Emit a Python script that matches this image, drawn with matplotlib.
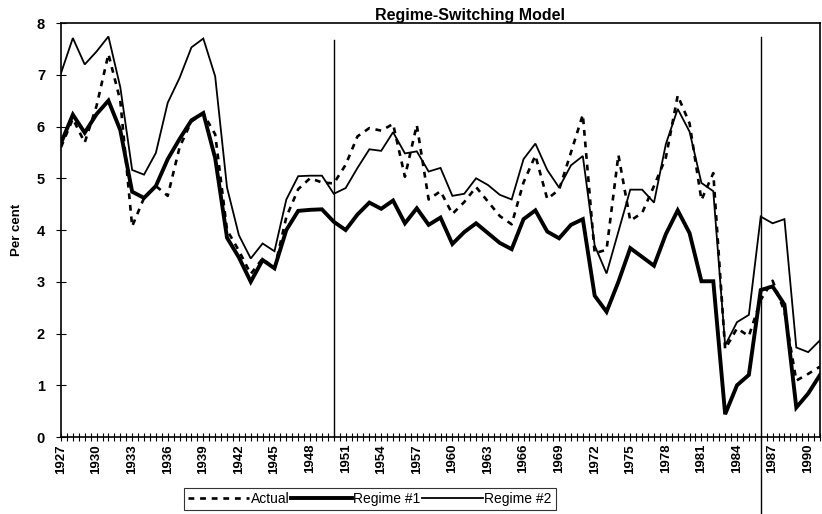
import numpy as np
import matplotlib
matplotlib.use("Agg")
import matplotlib.pyplot as plt
from matplotlib.ticker import MultipleLocator, FixedLocator

plt.rcParams['font.family'] = ['Liberation Sans', 'DejaVu Sans']

years = np.arange(1927, 1992)

actual = [5.60, 6.15, 5.69, 6.40, 7.40, 6.50, 4.07, 4.62, 4.85, 4.66,
          5.60, 6.10, 6.25, 5.85, 4.00, 3.60, 3.15, 3.45, 3.25, 4.25,
          4.79, 5.00, 4.92, 4.90, 5.26, 5.81, 5.97, 5.92, 6.05, 5.03,
          6.03, 4.59, 4.75, 4.31, 4.54, 4.83, 4.55, 4.27, 4.11, 4.92,
          5.44, 4.60, 4.78, 5.50, 6.23, 3.55, 3.62, 5.45, 4.18, 4.33,
          4.85, 5.40, 6.60, 6.06, 4.58, 5.10, 1.70, 2.10, 1.95, 2.65,
          3.02, 2.43, 1.09, 1.22, 1.36]

regime1 = [5.68, 6.23, 5.88, 6.24, 6.50, 5.93, 4.74, 4.62, 4.85, 5.37,
           5.76, 6.12, 6.26, 5.39, 3.85, 3.47, 3.00, 3.42, 3.26, 4.00,
           4.37, 4.39, 4.40, 4.16, 4.00, 4.30, 4.53, 4.41, 4.57, 4.13,
           4.42, 4.10, 4.24, 3.73, 3.96, 4.13, 3.94, 3.75, 3.63, 4.21,
           4.38, 3.97, 3.84, 4.10, 4.21, 2.73, 2.42, 3.00, 3.65, 3.48,
           3.31, 3.92, 4.38, 3.94, 3.01, 3.01, 0.44, 1.00, 1.20, 2.84,
           2.91, 2.56, 0.57, 0.84, 1.20]

regime2 = [7.03, 7.71, 7.20, 7.45, 7.74, 6.76, 5.16, 5.07, 5.49, 6.46,
           6.94, 7.53, 7.70, 6.97, 4.82, 3.90, 3.45, 3.74, 3.59, 4.59,
           5.04, 5.05, 5.05, 4.70, 4.81, 5.20, 5.56, 5.53, 5.89, 5.48,
           5.52, 5.13, 5.20, 4.66, 4.70, 5.00, 4.87, 4.68, 4.59, 5.37,
           5.67, 5.16, 4.82, 5.25, 5.43, 3.70, 3.16, 3.97, 4.78, 4.78,
           4.53, 5.66, 6.34, 5.90, 4.91, 4.75, 1.77, 2.22, 2.36, 4.26,
           4.13, 4.21, 1.73, 1.64, 1.87]

label_years = list(range(1927, 1991, 3))

# regime break markers (year, top of line, bottom of line)
breaks = [(1950, 7.67, 0.0), (1986, 7.73, -1.8)]

fig = plt.figure(figsize=(8.22, 5.14), dpi=100)
ax = fig.add_axes([0.0742, 0.1498, 0.9234, 0.8054])

ax.plot(years, actual, color='black', lw=1.9, linestyle=(0, (2.2, 2.2)),
        label='Actual')
ax.plot(years, regime1, color='black', lw=2.8, solid_joinstyle='miter',
        label='Regime #1')
ax.plot(years, regime2, color='black', lw=1.3, solid_joinstyle='miter',
        label='Regime #2')

for yr, top, bottom in breaks:
    ax.plot([yr, yr], [bottom, top], color='black', lw=1.0, clip_on=False)

ax.set_xlim(1927, 1991)
ax.set_ylim(0, 8)
ax.xaxis.set_major_locator(FixedLocator(label_years))
ax.xaxis.set_minor_locator(MultipleLocator(0.5))
ax.yaxis.set_major_locator(MultipleLocator(1))
ax.set_xticklabels([str(y) for y in label_years], rotation=90,
                   fontsize=9.5, fontweight='bold')
for lab in ax.get_yticklabels():
    lab.set_fontsize(10.5)
    lab.set_fontweight('bold')

ax.tick_params(axis='x', which='both', direction='inout', length=6,
               width=0.8, pad=2)
ax.tick_params(axis='y', which='major', direction='inout', length=7,
               width=0.8, pad=8, labelsize=10.5)
for side in ['left', 'bottom', 'top', 'right']:
    ax.spines[side].set_linewidth(1.2)

ax.set_ylabel('Per cent', fontsize=9.5, fontweight='bold', labelpad=10)

fig.text(0.572, 0.97, 'Regime-Switching Model', ha='center', va='center',
         fontsize=11.5, fontweight='bold')

leg = fig.legend(loc='center', bbox_to_anchor=(370 / 822, 1 - 499 / 514),
                 ncol=3, frameon=True, fancybox=False, edgecolor='black',
                 fontsize=10, handlelength=4.4, handletextpad=0.1,
                 columnspacing=0.1, borderpad=0.3, borderaxespad=0)
leg.get_frame().set_linewidth(0.8)

fig.savefig('out.png', dpi=100)
